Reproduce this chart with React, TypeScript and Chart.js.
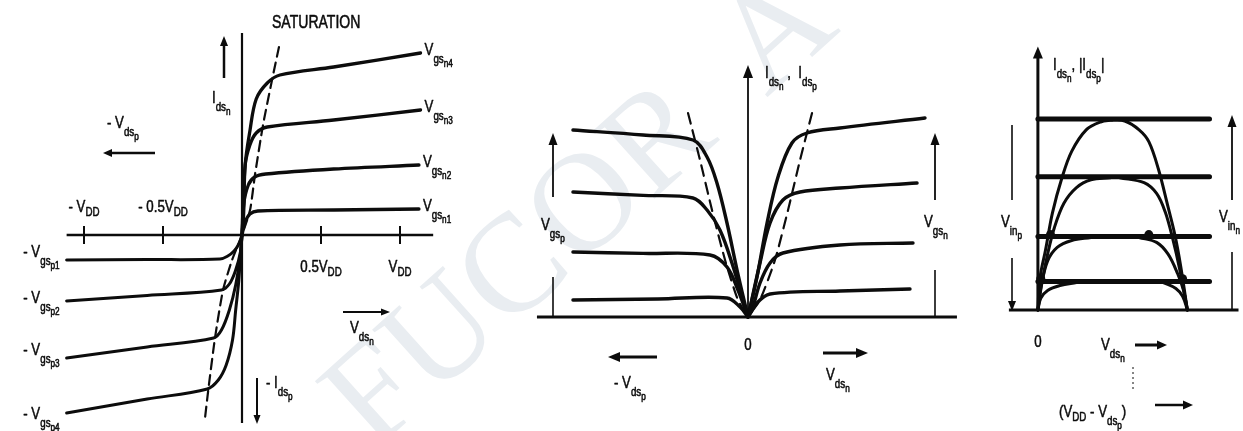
import { useEffect, useRef } from 'react';
import { Chart, registerables } from 'chart.js';
import type { Plugin } from 'chart.js';

Chart.register(...registerables);

type Pt = [number, number];
type Run = [string, number, number]; // text, font size, baseline shift

/* Left panel: nMOS output curves (first quadrant) and pMOS curves (third quadrant).
   Voltage in units of VDD, current in arbitrary units. */
const NMOS_VGS_N4: Pt[] = [[0, 0], [0.01, 1.0], [0.02, 3.5], [0.05, 5.2], [0.09, 6.8], [0.16, 7.6], [0.24, 8.0], [0.58, 8.4], [1.13, 9.1]];
const NMOS_VGS_N3: Pt[] = [[0, 0], [0.01, 1.5], [0.02, 3.5], [0.05, 4.5], [0.09, 5.1], [0.16, 5.4], [0.58, 5.75], [1.13, 6.25]];
const NMOS_VGS_N2: Pt[] = [[0, 0], [0.01, 1.5], [0.04, 2.5], [0.08, 2.9], [0.15, 3.05], [0.58, 3.3], [1.12, 3.5]];
const NMOS_VGS_N1: Pt[] = [[0, 0], [0.02, 0.65], [0.05, 1.05], [0.1, 1.2], [0.58, 1.25], [1.12, 1.3]];
const PMOS_VGS_P1: Pt[] = [[-1.11, -1.25], [-0.6, -1.23], [-0.14, -1.2], [-0.09, -1.05], [-0.05, -0.8], [-0.02, -0.45], [0, 0]];
const PMOS_VGS_P2: Pt[] = [[-1.11, -3.3], [-0.6, -3.02], [-0.13, -2.75], [-0.08, -2.45], [-0.04, -1.75], [-0.01, -0.85], [0, 0]];
const PMOS_VGS_P3: Pt[] = [[-1.11, -6.15], [-0.6, -5.6], [-0.18, -5.15], [-0.13, -4.75], [-0.08, -3.75], [-0.04, -2.5], [-0.01, -1.0], [0, 0]];
const PMOS_VGS_P4: Pt[] = [[-1.11, -8.9], [-0.6, -8.2], [-0.22, -7.7], [-0.15, -7.25], [-0.1, -6.5], [-0.06, -5.25], [-0.04, -3.75], [-0.02, -2.25], [-0.01, -1.0], [0, 0]];
const SATURATION_EDGE: Pt[] = [[0.234, 9.4], [0.19, 7.75], [0.133, 5.5], [0.082, 3.0], [0.051, 1.25], [0, 0], [-0.063, -1.25], [-0.12, -2.75], [-0.171, -5.15], [-0.215, -7.85], [-0.234, -9.15]];
const LEFT_TICKS = [-1, -0.5, 0.5, 1];
const LEFT_TICK_TEXT: [string, string][] = [['- V', 'DD'], ['- 0.5V', 'DD'], ['0.5V', 'DD'], ['V', 'DD']];
const LEFT_N_NAMES = ['n4', 'n3', 'n2', 'n1'];
const LEFT_P_NAMES = ['p1', 'p2', 'p3', 'p4'];
const LEFT_AXIS_X: Pt = [-1.11, 1.21];
const LEFT_AXIS_Y: Pt = [-9.4, 10.1];

/* Middle panel: both devices drawn with positive current. */
const MID_N4: Pt[] = [[0, 0], [0.06, 2.0], [0.127, 4.7], [0.2, 7.0], [0.293, 8.7], [0.393, 9.2], [0.613, 9.45], [1.18, 9.95]];
const MID_N3: Pt[] = [[0, 0], [0.08, 2.7], [0.147, 4.7], [0.233, 5.85], [0.347, 6.25], [0.613, 6.45], [1.127, 6.7]];
const MID_N2: Pt[] = [[0, 0], [0.027, 0.35], [0.08, 1.7], [0.147, 2.7], [0.233, 3.2], [0.613, 3.6], [1.1, 3.7]];
const MID_N1: Pt[] = [[0, 0], [0.06, 0.7], [0.147, 1.15], [0.613, 1.3], [1.08, 1.4]];
const MID_P4: Pt[] = [[-1.167, 9.35], [-0.7, 9.1], [-0.367, 8.85], [-0.273, 8.0], [-0.207, 6.7], [-0.14, 4.7], [-0.073, 2.35], [0, 0]];
const MID_P3: Pt[] = [[-1.167, 6.25], [-0.7, 6.08], [-0.367, 5.95], [-0.273, 5.35], [-0.187, 4.35], [-0.107, 2.7], [0, 0]];
const MID_P2: Pt[] = [[-1.167, 3.25], [-0.7, 3.18], [-0.253, 3.1], [-0.14, 2.5], [-0.067, 1.35], [0, 0]];
const MID_P1: Pt[] = [[-1.167, 0.85], [-0.6, 0.9], [-0.14, 0.95], [-0.053, 0.5], [0, 0]];
const MID_P_EDGE: Pt[] = [[-0.4, 10.2], [-0.32, 7.85], [-0.24, 5.35], [-0.153, 2.85], [-0.067, 0.85], [0, 0]];
const MID_N_EDGE: Pt[] = [[0.427, 10.2], [0.347, 7.85], [0.267, 5.35], [0.18, 2.85], [0.08, 0.85], [0, 0]];
const MID_AXIS_X: Pt = [-1.407, 1.393];
const MID_AXIS_TOP = 12.6;

/* Right panel: nMOS curves against Vds_n, pMOS curves against VDD - Vds_p. */
const SAT_LEVELS = [9.75, 6.8, 3.75, 1.45];
const SAT_LEVEL_END = 1.148;
const RIGHT_N1: Pt[] = [[0, 0], [0.013, 1.6], [0.052, 3.1], [0.097, 4.95], [0.161, 6.75], [0.226, 8.1], [0.323, 9.2], [0.419, 9.6], [0.497, 9.7]];
const RIGHT_P1: Pt[] = [[0.497, 9.7], [0.581, 9.65], [0.677, 9.2], [0.742, 8.6], [0.806, 7.2], [0.871, 5.25], [0.916, 3.85], [0.955, 2.25], [1.0, 0]];
const RIGHT_N2: Pt[] = [[0, 0], [0.026, 1.35], [0.065, 2.85], [0.11, 4.2], [0.174, 5.45], [0.258, 6.25], [0.355, 6.65], [0.484, 6.75]];
const RIGHT_P2: Pt[] = [[0.548, 6.75], [0.71, 6.5], [0.794, 5.95], [0.852, 5.0], [0.903, 3.6], [0.948, 2.1], [1.0, 0]];
const RIGHT_N3: Pt[] = [[0, 0], [0.019, 1.1], [0.065, 2.5], [0.129, 3.2], [0.226, 3.55], [0.355, 3.7]];
const RIGHT_P3: Pt[] = [[0.677, 3.7], [0.794, 3.45], [0.871, 2.85], [0.935, 1.85], [0.974, 1.0], [1.0, 0]];
const RIGHT_N4: Pt[] = [[0, 0], [0.019, 0.6], [0.065, 1.0], [0.148, 1.25], [0.258, 1.4]];
const RIGHT_P4: Pt[] = [[0.839, 1.4], [0.923, 1.1], [0.968, 0.7], [1.0, 0]];
const OPERATING_POINTS: Pt[] = [[0.084, 3.85], [0.742, 3.85], [0.968, 1.6], [0.019, 1.6]];
const RIGHT_AXIS_X: Pt = [-0.194, 1.342];
const RIGHT_AXIS_TOP = 13.45;

const INK = '#0c0c0c';
const FONT = '"Liberation Sans", Arial, Helvetica, sans-serif';
const SQUASH = 0.78;
const H = 431;

type Ctx = CanvasRenderingContext2D;
type Map1 = (v: number) => number;

function sym(main: string, sub = '', subsub = ''): Run[] {
  const r: Run[] = [[main, 17, 0]];
  if (sub) r.push([sub, 12.5, 8]);
  if (subsub) r.push([subsub, 10.5, 12]);
  return r;
}

function runsWidth(ctx: Ctx, runs: Run[]) {
  let w = 0;
  for (const [t, s] of runs) {
    ctx.font = `${s}px ${FONT}`;
    w += ctx.measureText(t).width * SQUASH;
  }
  return w;
}

function text(ctx: Ctx, x: number, y: number, runs: Run[], align: 'left' | 'center' | 'right' = 'left') {
  const w = runsWidth(ctx, runs);
  let cx = align === 'right' ? x - w : align === 'center' ? x - w / 2 : x;
  ctx.fillStyle = INK;
  ctx.strokeStyle = INK;
  ctx.lineWidth = 0.55;
  ctx.lineJoin = 'round';
  ctx.textBaseline = 'alphabetic';
  ctx.textAlign = 'left';
  for (const [t, s, dy] of runs) {
    ctx.font = `${s}px ${FONT}`;
    const tw = ctx.measureText(t).width * SQUASH;
    ctx.save();
    ctx.translate(cx, y + dy);
    ctx.scale(SQUASH, 1);
    ctx.fillText(t, 0, 0);
    ctx.strokeText(t, 0, 0);
    ctx.restore();
    cx += tw;
  }
}

function seg(ctx: Ctx, x1: number, y1: number, x2: number, y2: number, lw = 2, dash: number[] = []) {
  ctx.save();
  ctx.strokeStyle = INK;
  ctx.lineWidth = lw;
  ctx.setLineDash(dash);
  ctx.beginPath();
  ctx.moveTo(x1, y1);
  ctx.lineTo(x2, y2);
  ctx.stroke();
  ctx.restore();
}

function arrow(ctx: Ctx, x1: number, y1: number, x2: number, y2: number, lw = 2, head = 9, half = 4) {
  const a = Math.atan2(y2 - y1, x2 - x1);
  const c = Math.cos(a);
  const s = Math.sin(a);
  seg(ctx, x1, y1, x2 - c * head * 0.7, y2 - s * head * 0.7, lw);
  const bx = x2 - c * head;
  const by = y2 - s * head;
  ctx.save();
  ctx.fillStyle = INK;
  ctx.beginPath();
  ctx.moveTo(x2, y2);
  ctx.lineTo(bx - s * half, by + c * half);
  ctx.lineTo(bx + s * half, by - c * half);
  ctx.closePath();
  ctx.fill();
  ctx.restore();
}

function curve(data: Pt[], width = 3, dash: number[] = [], tension = 0.35) {
  return {
    data: data.map(([x, y]) => ({ x, y })),
    showLine: true,
    borderColor: INK,
    borderWidth: width,
    borderDash: dash,
    borderCapStyle: 'round' as const,
    borderJoinStyle: 'round' as const,
    pointRadius: 0,
    tension,
    fill: false,
    clip: false as const,
  };
}

interface Frame { left: number; width: number; ox: number; oy: number; kx: number; ky: number }

function build(canvas: HTMLCanvasElement, f: Frame, datasets: any[], decorate: (ctx: Ctx, X: Map1, Y: Map1) => void) {
  const lx = f.ox - f.left;
  const decor: Plugin = {
    id: 'decor',
    afterDatasetsDraw(chart) {
      const ctx = chart.ctx;
      const sx = chart.scales.x;
      const sy = chart.scales.y;
      ctx.save();
      ctx.translate(-f.left, 0);
      decorate(ctx, (v) => sx.getPixelForValue(v) + f.left, (v) => sy.getPixelForValue(v));
      ctx.restore();
    },
  };
  return new Chart(canvas, {
    type: 'scatter',
    data: { datasets },
    options: {
      animation: false,
      responsive: false,
      events: [],
      layout: { padding: 0 },
      plugins: { legend: { display: false }, tooltip: { enabled: false } },
      scales: {
        x: { type: 'linear', display: false, min: -lx / f.kx, max: (f.width - lx) / f.kx },
        y: { type: 'linear', display: false, min: -(H - f.oy) / f.ky, max: f.oy / f.ky },
      },
    },
    plugins: [decor],
  });
}

const LEFT_FRAME: Frame = { left: 0, width: 455, ox: 242, oy: 235, kx: 158, ky: 20 };
const MID_FRAME: Frame = { left: 520, width: 440, ox: 748, oy: 317, kx: 150, ky: 20 };
const RIGHT_FRAME: Frame = { left: 990, width: 253, ox: 1035, oy: 312, kx: 155, ky: 20 };

function leftChart(canvas: HTMLCanvasElement) {
  const nCurves = [NMOS_VGS_N4, NMOS_VGS_N3, NMOS_VGS_N2, NMOS_VGS_N1];
  const pCurves = [PMOS_VGS_P1, PMOS_VGS_P2, PMOS_VGS_P3, PMOS_VGS_P4];
  const datasets = [
    ...nCurves.map((c) => curve(c, 3.3)),
    ...pCurves.map((c) => curve(c, 3)),
    curve(SATURATION_EDGE, 2.2, [10, 6], 0.2),
  ];
  return build(canvas, LEFT_FRAME, datasets, (ctx, X, Y) => {
    const y0 = Y(0);
    seg(ctx, X(LEFT_AXIS_X[0]), y0, X(LEFT_AXIS_X[1]), y0, 2.3);
    seg(ctx, X(0), Y(LEFT_AXIS_Y[0]), X(0), Y(LEFT_AXIS_Y[1]), 2.2);
    LEFT_TICKS.forEach((t, i) => {
      const px = X(t);
      seg(ctx, px, y0 - 9, px, y0 + 9, 2);
      const [m, s] = LEFT_TICK_TEXT[i];
      text(ctx, px, t < 0 ? y0 - 23 : y0 + 37, [[m, 17, 0], [s, 12.5, 4]], 'center');
    });
    nCurves.forEach((c, i) => {
      const [ex, ey] = c[c.length - 1];
      text(ctx, X(ex) + 4, Y(ey) + 2, sym('V', 'gs', LEFT_N_NAMES[i]));
    });
    const pBase = [257, 303, 355, 419];
    pCurves.forEach((c, i) => {
      const [sx] = c[0];
      text(ctx, X(sx) - 7, pBase[i], [['- V', 17, 0], ['gs', 12.5, 8], [LEFT_P_NAMES[i], 10.5, 12]], 'right');
    });
    text(ctx, 272, 28, [['SATURATION', 18, 0]]);
    arrow(ctx, 224, 78, 224, 36, 2.5, 10, 4);
    text(ctx, 212, 103, sym('I', 'ds', 'n'));
    text(ctx, 107, 128, sym('- V', 'ds', 'p'));
    arrow(ctx, 155, 153, 103, 153, 2.5, 9, 4);
    arrow(ctx, 343, 312, 390, 312, 2, 9, 3.5);
    text(ctx, 350, 333, sym('V', 'ds', 'n'));
    arrow(ctx, 257, 378, 257, 424, 2, 9, 3.5);
    text(ctx, 266, 388, sym('- I', 'ds', 'p'));
  });
}

function midChart(canvas: HTMLCanvasElement) {
  const datasets = [
    ...[MID_N4, MID_N3, MID_N2, MID_N1].map((c) => curve(c, 3.4)),
    ...[MID_P4, MID_P3, MID_P2, MID_P1].map((c) => curve(c, 3.4)),
    curve(MID_P_EDGE, 2.2, [11, 7], 0.2),
    curve(MID_N_EDGE, 2.2, [11, 7], 0.2),
  ];
  return build(canvas, MID_FRAME, datasets, (ctx, X, Y) => {
    const y0 = Y(0);
    seg(ctx, X(MID_AXIS_X[0]), y0, X(MID_AXIS_X[1]), y0, 3);
    arrow(ctx, X(0), y0, X(0), Y(MID_AXIS_TOP), 1.8, 13, 5);
    text(ctx, 765, 78, [['I', 17, 0], ['ds', 12.5, 8], ['n', 10.5, 12], [' ,  ', 17, 0], ['I', 17, 0], ['ds', 12.5, 8], ['p', 10.5, 12]]);
    arrow(ctx, 553, 197, 553, 133, 1.8, 12, 4.5);
    seg(ctx, 553, 277, 553, 318, 1.6);
    text(ctx, 541, 230, sym('V', 'gs', 'p'));
    arrow(ctx, 935, 200, 935, 133, 1.8, 12, 4.5);
    seg(ctx, 935, 270, 935, 318, 1.6);
    text(ctx, 924, 227, sym('V', 'gs', 'n'));
    text(ctx, X(0), 350, [['0', 17, 0]], 'center');
    arrow(ctx, 657, 357, 608, 357, 3, 12, 5);
    text(ctx, 614, 388, sym('- V', 'ds', 'p'));
    arrow(ctx, 823, 353, 868, 353, 3, 12, 5);
    text(ctx, 826, 380, sym('V', 'ds', 'n'));
  });
}

function rightChart(canvas: HTMLCanvasElement) {
  const datasets: any[] = [
    ...SAT_LEVELS.map((lv) => curve([[0, lv], [SAT_LEVEL_END, lv]], 5, [], 0)),
    ...[RIGHT_N1, RIGHT_P1, RIGHT_N2, RIGHT_P2, RIGHT_N3, RIGHT_P3, RIGHT_N4, RIGHT_P4].map((c) => curve(c, 3)),
    {
      data: OPERATING_POINTS.map(([x, y]) => ({ x, y })),
      showLine: false,
      pointRadius: 4.5,
      pointBorderWidth: 0,
      pointBackgroundColor: INK,
      clip: false,
    },
  ];
  return build(canvas, RIGHT_FRAME, datasets, (ctx, X, Y) => {
    const y0 = Y(0);
    seg(ctx, X(RIGHT_AXIS_X[0]), y0, X(RIGHT_AXIS_X[1]), y0, 3);
    arrow(ctx, X(0), y0 + 1, X(0), Y(RIGHT_AXIS_TOP), 3, 12, 5);
    text(ctx, 1053, 70, [['I', 17, 0], ['ds', 12.5, 8], ['n', 10.5, 12], [', |I', 17, 0], ['ds', 12.5, 8], ['p', 10.5, 12], ['|', 17, 0]]);
    seg(ctx, 1012, 125, 1012, 200, 1.6);
    arrow(ctx, 1012, 258, 1012, 311, 1.6, 10, 4);
    text(ctx, 1001, 227, sym('V', 'in', 'p'));
    seg(ctx, 1232, 311, 1232, 252, 1.6);
    arrow(ctx, 1232, 200, 1232, 115, 1.8, 12, 4.5);
    text(ctx, 1219, 222, sym('V', 'in', 'n'));
    text(ctx, X(0), 347, [['0', 17, 0]], 'center');
    text(ctx, 1101, 350, sym('V', 'ds', 'n'));
    arrow(ctx, 1135, 345, 1167, 345, 3, 10, 4.5);
    text(ctx, 1059, 417, [['(V', 17, 0], ['DD', 12.5, 4], [' - V', 17, 0], ['ds', 12.5, 8], ['p', 10.5, 12], [')', 17, 0]]);
    arrow(ctx, 1155, 405, 1193, 405, 2.5, 10, 4.5);
    seg(ctx, 1133, 367, 1133, 392, 1, [2, 3]);
  });
}

export default function App() {
  const leftRef = useRef<HTMLCanvasElement>(null);
  const midRef = useRef<HTMLCanvasElement>(null);
  const rightRef = useRef<HTMLCanvasElement>(null);

  useEffect(() => {
    const charts = [leftChart(leftRef.current!), midChart(midRef.current!), rightChart(rightRef.current!)];
    return () => charts.forEach((c) => c.destroy());
  }, []);

  const abs = (left: number) => ({ position: 'absolute' as const, left, top: 0 });

  return (
    <div style={{ position: 'fixed', left: 0, top: 0, width: 1243, height: H, background: '#fff', overflow: 'hidden' }}>
      <div
        style={{
          position: 'absolute',
          left: 295,
          top: 365,
          transformOrigin: '0 0',
          transform: 'rotate(-42deg)',
          fontFamily: '"Liberation Serif", "DejaVu Serif", serif',
          fontSize: 140,
          lineHeight: 1,
          whiteSpace: 'pre',
          color: '#e9edf1',
        }}
      >
        FUCOR  A
      </div>
      <canvas ref={leftRef} width={LEFT_FRAME.width} height={H} style={abs(LEFT_FRAME.left)} />
      <canvas ref={midRef} width={MID_FRAME.width} height={H} style={abs(MID_FRAME.left)} />
      <canvas ref={rightRef} width={RIGHT_FRAME.width} height={H} style={abs(RIGHT_FRAME.left)} />
    </div>
  );
}
